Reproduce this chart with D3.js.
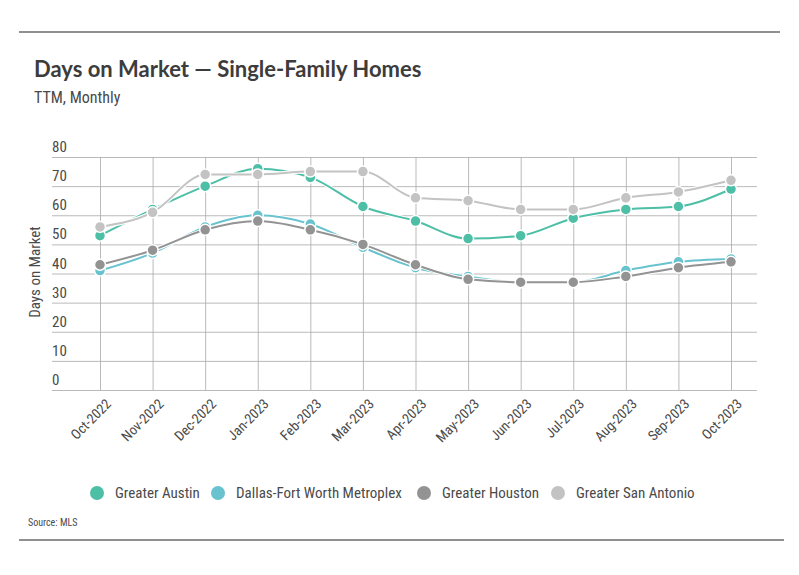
<!DOCTYPE html>
<html>
<head>
<meta charset="utf-8">
<script src="https://cdn.jsdelivr.net/npm/d3@7"></script>
<style>
  body { margin: 0; background: #fff; }
  text { font-family: "Liberation Sans Narrow", "Roboto Condensed", "Liberation Sans", sans-serif; fill: #4a4a4a; }
  .title { font-family: "Lato", "Open Sans", sans-serif; font-weight: 700; fill: #3c3c3c; }
  .grid line { stroke: #a8a8a8; stroke-width: 0.8; }
  .grid path { display: none; }
</style>
</head>
<body>
<script>
let months = ['Oct-2022', 'Nov-2022', 'Dec-2022', 'Jan-2023', 'Feb-2023', 'Mar-2023', 'Apr-2023',
              'May-2023', 'Jun-2023', 'Jul-2023', 'Aug-2023', 'Sep-2023', 'Oct-2023'];
let seriesNames = ['Greater Austin', 'Dallas-Fort Worth Metroplex', 'Greater Houston', 'Greater San Antonio'];
let austin = [53, 62, 70, 76, 73, 63, 58, 52, 53, 59, 62, 63, 69];
let dfw = [41, 47, 56, 60, 57, 49, 42, 39, 37, 37, 41, 44, 45];
let houston = [43, 48, 55, 58, 55, 50, 43, 38, 37, 37, 39, 42, 44];
let sanAntonio = [56, 61, 74, 74, 75, 75, 66, 65, 62, 62, 66, 68, 72];
let yTicks = [0, 10, 20, 30, 40, 50, 60, 70, 80];
let colors = ['#4dbfa6', '#68c3cf', '#939393', '#c3c3c3'];

let width = 799;
let height = 575;
let allSeries = [austin, dfw, houston, sanAntonio];

let svg = d3.select('body')
            .append('svg')
            .attr('width', width)
            .attr('height', height)

// frame lines
svg.append('line').attr('x1', 19).attr('x2', 780).attr('y1', 32).attr('y2', 32)
    .attr('stroke', '#222').attr('stroke-width', 1.2)
svg.append('line').attr('x1', 19).attr('x2', 784).attr('y1', 540).attr('y2', 540)
    .attr('stroke', '#222').attr('stroke-width', 1.2)

svg.append('text').attr('class', 'title').attr('x', 34).attr('y', 77)
    .style('font-size', '22px').text('Days on Market — Single-Family Homes')
svg.append('text').attr('x', 34).attr('y', 103)
    .style('font-size', '16px').text('TTM, Monthly')

let xScale = d3.scalePoint()
                .domain(months)
                .range([100, 731])

let yScale = d3.scaleLinear()
                .domain([0, 80])
                .range([390, 157])

// horizontal grid
svg.append('g')
    .attr('class', 'grid')
    .attr('transform', 'translate(52,0)')
    .call(d3.axisRight(yScale).tickValues(yTicks).tickSize(705).tickFormat(''))

// vertical grid
svg.append('g')
    .attr('class', 'grid')
    .attr('transform', 'translate(0,157)')
    .call(d3.axisBottom(xScale).tickSize(233).tickFormat(''))

// y labels sit above their gridlines
svg.append('g')
    .selectAll('text')
    .data(yTicks)
    .enter()
    .append('text')
    .attr('x', 52)
    .attr('y', d => yScale(d) - 5)
    .style('font-size', '15px')
    .text(d => d)

svg.append('text')
    .attr('transform', 'translate(40,272) rotate(-90)')
    .attr('text-anchor', 'middle')
    .style('font-size', '15px')
    .text('Days on Market')

// x labels
svg.append('g')
    .selectAll('text')
    .data(months)
    .enter()
    .append('text')
    .attr('transform', d => 'translate(' + (xScale(d) + 5) + ',398) rotate(-45)')
    .attr('text-anchor', 'end')
    .attr('dy', '0.7em')
    .style('font-size', '14px')
    .text(d => d)

let line = d3.line()
            .x((d, i) => xScale(months[i]))
            .y(d => yScale(d))
            .curve(d3.curveMonotoneX)

allSeries.forEach((s, k) => {
    let g = svg.append('g')
    g.append('path')
        .attr('d', line(s))
        .attr('fill', 'none')
        .attr('stroke', '#fff')
        .attr('stroke-width', 4)
    g.append('path')
        .attr('d', line(s))
        .attr('fill', 'none')
        .attr('stroke', colors[k])
        .attr('stroke-width', 2)
    g.selectAll('circle')
        .data(s)
        .enter()
        .append('circle')
        .attr('cx', (d, i) => xScale(months[i]))
        .attr('cy', d => yScale(d))
        .attr('r', 5.5)
        .attr('fill', colors[k])
        .attr('stroke', '#fff')
        .attr('stroke-width', 1.5)
})

// legend
let legendX = [97, 218, 424, 558];
let legend = svg.append('g')
legend.selectAll('circle')
    .data(seriesNames)
    .enter()
    .append('circle')
    .attr('cx', (d, i) => legendX[i])
    .attr('cy', 493)
    .attr('r', 7)
    .attr('fill', (d, i) => colors[i])
legend.selectAll('text')
    .data(seriesNames)
    .enter()
    .append('text')
    .attr('x', (d, i) => legendX[i] + 18)
    .attr('y', 498)
    .style('font-size', '15px')
    .text(d => d)

svg.append('text').attr('x', 28).attr('y', 526)
    .style('font-size', '10px').text('Source:  MLS')
</script>
</body>
</html>
